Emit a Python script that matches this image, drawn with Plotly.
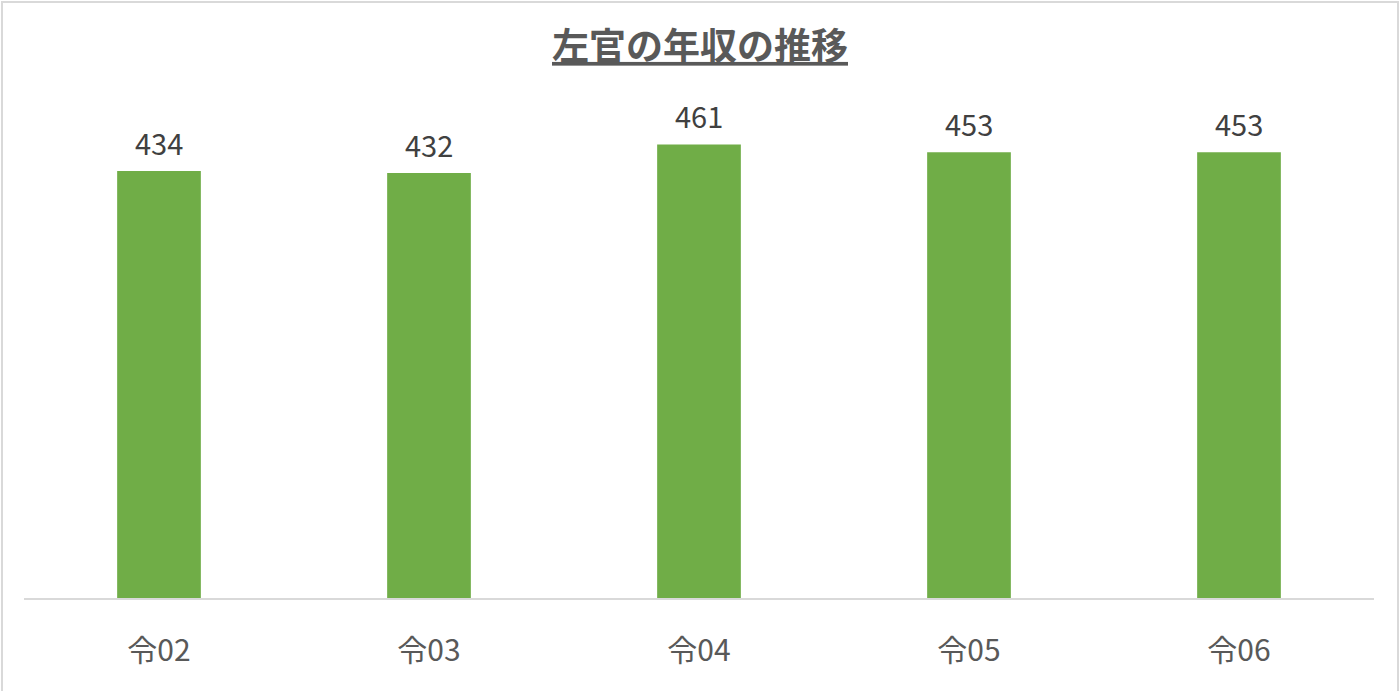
import plotly.graph_objects as go

# 左官の年収（万円）
years = ['令02', '令03', '令04', '令05', '令06']
salary = [434, 432, 461, 453, 453]

W, H = 1400, 691
ML, MR, MT, MB = 24, 26, 106, 93
pw, ph = W - ML - MR, H - MT - MB

fig = go.Figure(go.Bar(
    x=years,
    y=salary,
    marker=dict(color='#70AD47', line=dict(width=0)),
    hoverinfo='x+y',
))

# 棒の上の数値ラベル（少し離して表示）
for yr, v in zip(years, salary):
    fig.add_annotation(
        x=yr, y=v, text=str(v), showarrow=False,
        yanchor='bottom', yshift=6,
        font=dict(size=29, color='#404040', family='Noto Sans CJK JP'),
    )

fig.update_layout(
    width=W, height=H,
    margin=dict(l=ML, r=MR, t=MT, b=MB),
    paper_bgcolor='white',
    plot_bgcolor='white',
    showlegend=False,
    bargap=0.69,
    font=dict(family='Noto Sans CJK JP', color='#595959'),
    title=dict(
        text='<b><u>左官の年収の推移</u></b>',
        x=0.5, xanchor='center',
        y=1 - 47 / H, yanchor='middle',
        font=dict(size=37, color='#595959'),
    ),
    xaxis=dict(
        showline=True, linecolor='#D9D9D9', linewidth=2,
        ticks='', tickfont=dict(size=30, color='#595959'),
        ticklabelstandoff=25,
    ),
    yaxis=dict(
        range=[0, 500], visible=False, showgrid=False,
    ),
    shapes=[dict(
        type='rect', xref='paper', yref='paper',
        x0=(2 - ML) / pw, x1=(W - 2 - ML) / pw,
        y0=(MB - (H - 2)) / ph, y1=(H - 2 - MB) / ph,
        line=dict(color='#D9D9D9', width=2),
    )],
)

# ページ余白を消して図をウィンドウにぴったり合わせる
fig.write_html('out.html', config={'displayModeBar': False},
               post_script="document.body.style.margin='0';")
